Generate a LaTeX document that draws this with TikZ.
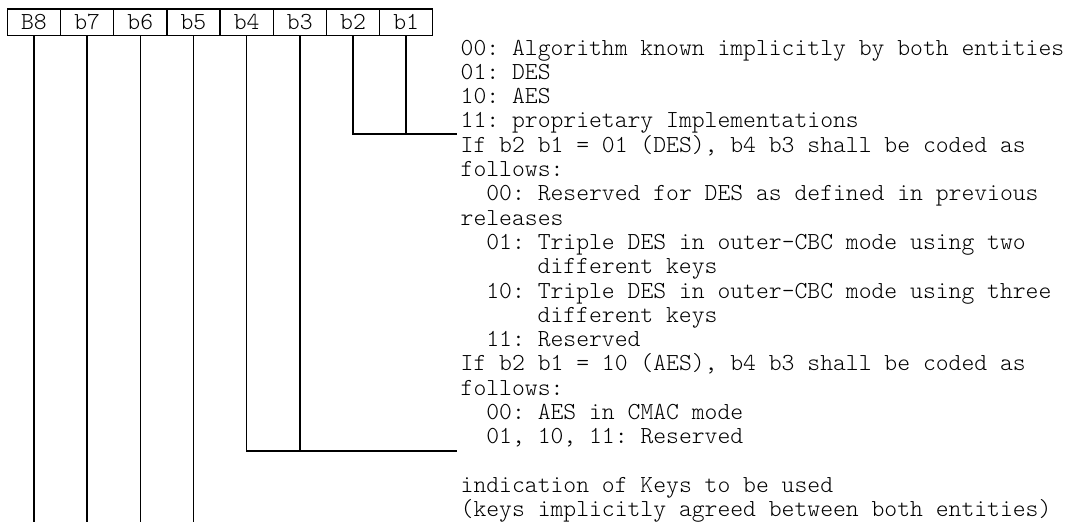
\documentclass[tikz,border=0pt]{standalone}
\usepackage{fontspec}
\setmonofont{lmmonolt10-regular.otf}
\newcommand\monotxt{\ttfamily\fontsize{24.46}{24.3}\selectfont}
\begin{document}
\begin{tikzpicture}[x=1pt,y=-1pt,
  line width=1.4pt,
  bitbox/.style={draw, line width=1.4pt, minimum width=53.17pt, minimum height=26.7pt, inner sep=0pt, font=\monotxt, anchor=north west},
  txt/.style={anchor=base west, inner sep=0pt, font=\monotxt},
  conn/.style={draw, line width=1.4pt}]
\useasboundingbox (0,0) rectangle (1065,522);
% bit boxes
\node[bitbox] (B8) at (6.7,8.3) {B8};
\node[bitbox] (b7) at (59.87,8.3) {b7};
\node[bitbox] (b6) at (113.04,8.3) {b6};
\node[bitbox] (b5) at (166.21,8.3) {b5};
\node[bitbox] (b4) at (219.38,8.3) {b4};
\node[bitbox] (b3) at (272.55,8.3) {b3};
\node[bitbox] (b2) at (325.72,8.3) {b2};
\node[bitbox] (b1) at (378.89,8.3) {b1};
% connector ends
\coordinate (e12) at (457,134);
\coordinate (e34) at (457,451);
\coordinate (bot) at (0,522);
\path[conn] (b2.south) |- (e12);
\path[conn] (b1.south) -- (b1.south |- e12);
\path[conn] (b4.south) |- (e34);
\path[conn] (b3.south) -- (b3.south |- e34);
\path[conn] (B8.south) -- (B8.south |- bot);
\path[conn] (b7.south) -- (b7.south |- bot);
\path[conn] (b6.south) -- (b6.south |- bot);
\path[conn] (b5.south) -- (b5.south |- bot);
% texts
\node[txt] (t0) at (460,55) {00: Algorithm known implicitly by both entities};
\node[txt] (t1) at (460,79.3) {01: DES};
\node[txt] (t2) at (460,103.6) {10: AES};
\node[txt] (t3) at (460,127.9) {11: proprietary Implementations};
\node[txt] (t4) at (460,152.2) {If b2 b1 = 01 (DES), b4 b3 shall be coded as};
\node[txt] (t5) at (460,176.5) {follows:};
\node[txt] (t6) at (485.7,200.8) {00: Reserved for DES as defined in previous};
\node[txt] (t7) at (460,225.1) {releases};
\node[txt] (t8) at (485.7,249.4) {01: Triple DES in outer-CBC mode using two};
\node[txt] (t9) at (537,273.7) {different keys};
\node[txt] (t10) at (485.7,298) {10: Triple DES in outer-CBC mode using three};
\node[txt] (t11) at (537,322.3) {different keys};
\node[txt] (t12) at (485.7,346.6) {11: Reserved};
\node[txt] (t13) at (460,370.9) {If b2 b1 = 10 (AES), b4 b3 shall be coded as};
\node[txt] (t14) at (460,395.2) {follows:};
\node[txt] (t15) at (485.7,419.5) {00: AES in CMAC mode};
\node[txt] (t16) at (485.7,443.8) {01, 10, 11: Reserved};
\node[txt] (t18) at (460,492.4) {indication of Keys to be used};
\node[txt] (t19) at (460,516.7) {(keys implicitly agreed between both entities)};
\end{tikzpicture}
\end{document}
